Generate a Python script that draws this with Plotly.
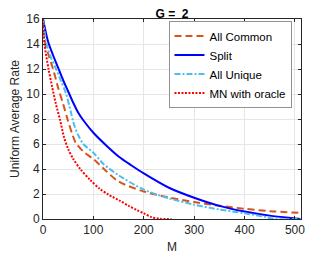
import plotly.graph_objects as go

# All Common
m_common = [0, 5, 12, 20, 30, 40, 50, 58, 65, 80, 100, 125, 150, 200, 250, 300, 350, 400, 450, 512]
v_common = [16, 14, 13, 12, 10.5, 9.2, 7.8, 6.8, 6.1, 5.4, 4.8, 3.85, 3.0, 2.2, 1.72, 1.36, 1.06, 0.82, 0.63, 0.48]

# Split
m_split = [0, 10, 20, 30, 40, 50, 60, 70, 80, 100, 125, 150, 175, 200, 250, 300, 350, 400, 450, 500, 512]
v_split = [16, 14.2, 13.1, 12.1, 11.1, 10.2, 9.3, 8.5, 7.9, 6.9, 5.9, 5.0, 4.3, 3.65, 2.5, 1.7, 1.05, 0.6, 0.27, 0.05, 0]

# All Unique
m_unique = [0, 7, 15, 26, 35, 46, 55, 62, 70, 80, 100, 120, 150, 200, 250, 300, 350, 400, 440, 460, 512]
v_unique = [16, 14, 13, 12, 11.1, 10, 8.6, 7.5, 6.7, 6.0, 5.3, 4.4, 3.5, 2.35, 1.65, 1.15, 0.76, 0.46, 0.18, 0, 0]

# MN with oracle
m_oracle = [0, 3, 11, 18, 25, 34, 42, 50, 60, 74, 93, 113, 130, 153, 170, 186, 200, 215, 232, 255]
v_oracle = [16, 14, 12, 10.6, 9.3, 7.9, 6.5, 5.6, 4.8, 4.0, 3.15, 2.4, 1.95, 1.45, 1.05, 0.72, 0.45, 0.15, 0.02, 0]

x_ticks = [0, 100, 200, 300, 400, 500]
y_ticks = [0, 2, 4, 6, 8, 10, 12, 14, 16]

FONT = "Liberation Sans, Arial"

fig = go.Figure()
fig.add_trace(go.Scatter(x=m_common, y=v_common, mode="lines", name="All Common",
                         line=dict(color="#D95319", width=2, dash="7px,4px", shape="spline", smoothing=0.8)))
fig.add_trace(go.Scatter(x=m_split, y=v_split, mode="lines", name="Split",
                         line=dict(color="#0000FF", width=2, shape="spline", smoothing=0.8)))
fig.add_trace(go.Scatter(x=m_unique, y=v_unique, mode="lines", name="All Unique",
                         line=dict(color="#4DBEEE", width=2, dash="6px,2px,2px,2px", shape="spline", smoothing=0.8)))
fig.add_trace(go.Scatter(x=m_oracle, y=v_oracle, mode="lines", name="MN with oracle",
                         line=dict(color="#FF0000", width=2, dash="2px,1.5px", shape="spline", smoothing=0.8)))

axis_common = dict(showline=True, linecolor="#262626", linewidth=1, mirror="ticks",
                   ticks="inside", ticklen=3, tickcolor="#262626", automargin=False,
                   showgrid=True, gridcolor="#E6E6E6", gridwidth=1, zeroline=False,
                   tickfont=dict(family=FONT, size=12, color="#262626"))

# page body has an 8px default margin; figure is sized to fill the rest
W, H = 324, 246
fig.update_layout(
    width=W, height=H,
    margin=dict(l=35, r=31, t=11, b=35),
    paper_bgcolor="white", plot_bgcolor="white",
    title=dict(text="<b>G =  2</b>", x=(35 + 293) / 2 / W, xanchor="center",
               y=1 - 1.5 / H, yanchor="top",
               font=dict(family=FONT, size=12, color="black")),
    xaxis=dict(range=[0, 512], tickvals=x_ticks,
               title=dict(text="M", font=dict(family=FONT, size=12, color="#262626")),
               **axis_common),
    yaxis=dict(range=[0, 16], tickvals=y_ticks,
               title=dict(text="Uniform Average Rate", font=dict(family=FONT, size=12, color="#262626")),
               **axis_common),
    legend=dict(x=0.965, y=0.99, xanchor="right", yanchor="top",
                bgcolor="white", bordercolor="#262626", borderwidth=0.5,
                font=dict(family=FONT, size=11.5, color="black"),
                tracegroupgap=0, itemwidth=30),
    showlegend=True,
)

fig.write_html("out.html")
